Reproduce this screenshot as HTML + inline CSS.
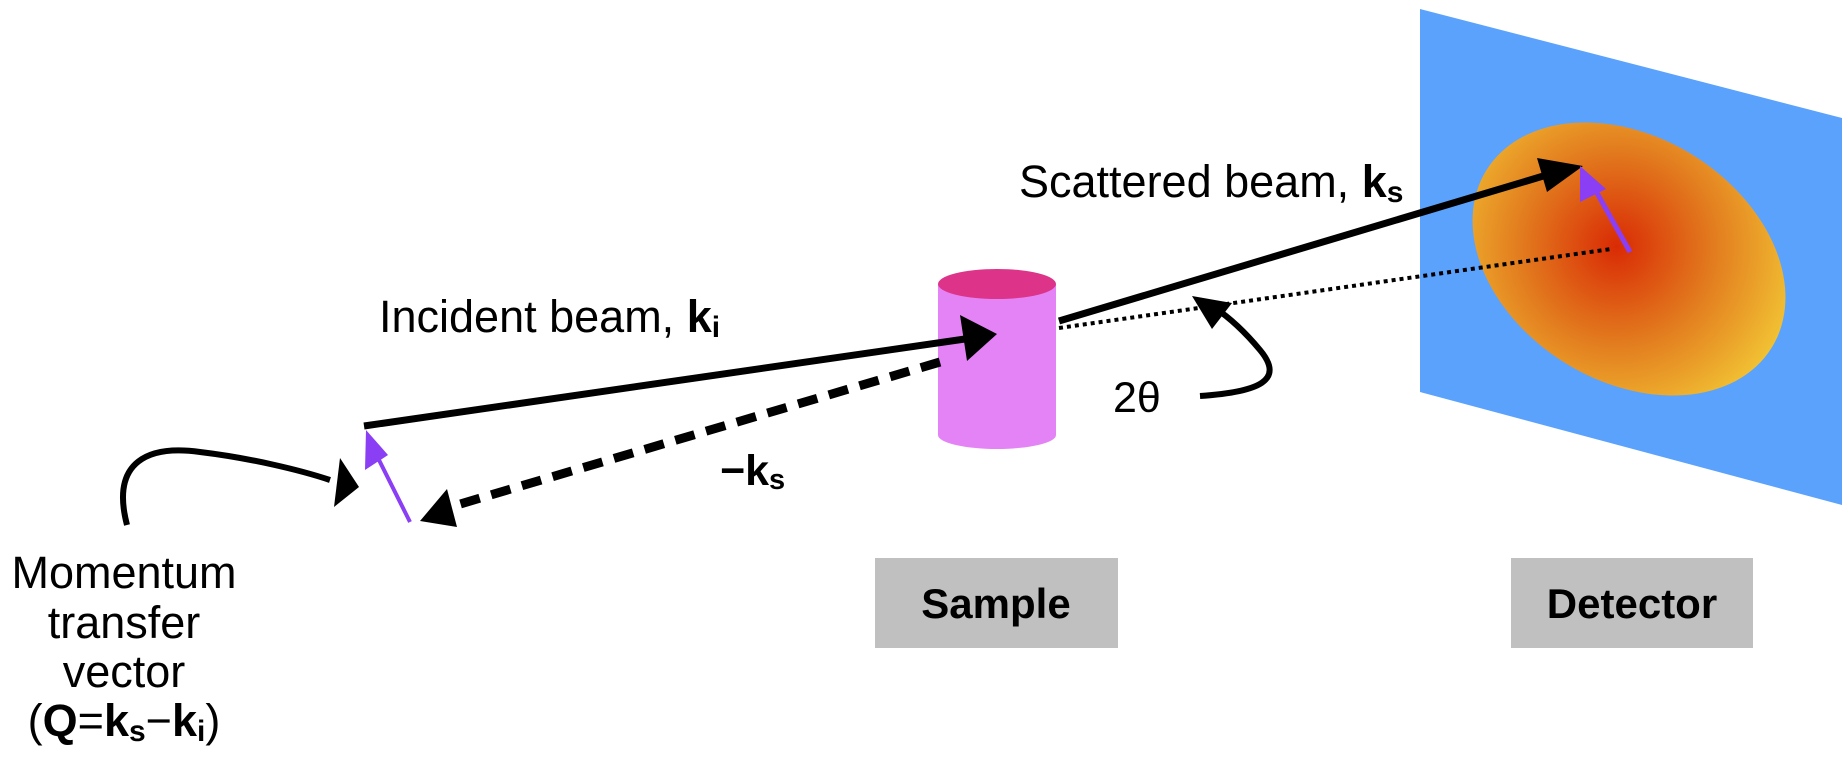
<!DOCTYPE html>
<html><head><style>
html,body{margin:0;padding:0;background:#fff;}
svg{display:block;}
text{font-family:"Liberation Sans",sans-serif;fill:#000;}
</style></head><body>
<svg width="1845" height="759" viewBox="0 0 1845 759" xmlns="http://www.w3.org/2000/svg">
<defs>
<radialGradient id="g" cx="1612" cy="255" r="190" gradientUnits="userSpaceOnUse">
<stop offset="0" stop-color="#d92b05"/>
<stop offset="0.5" stop-color="#e27a1e"/>
<stop offset="1" stop-color="#f2c534"/>
</radialGradient>
</defs>
<polygon points="1420,9 1842,118 1842,505 1420,392" fill="#5ba2fd"/>
<ellipse cx="1629" cy="259" rx="168" ry="122" transform="rotate(32 1629 259)" fill="url(#g)"/>
<line x1="1059" y1="328" x2="1611" y2="249" stroke="#000" stroke-width="4" stroke-dasharray="4,4"/>
<rect x="938" y="284" width="118" height="151" fill="#e383f5"/>
<ellipse cx="997" cy="435" rx="59" ry="14" fill="#e383f5"/>
<ellipse cx="997" cy="284" rx="59" ry="15" fill="#dd3388"/>
<line x1="364" y1="426" x2="965" y2="339" stroke="#000" stroke-width="7"/>
<polygon points="997,334 960,315 967,361" fill="#000"/>
<line x1="940" y1="362" x2="450" y2="507" stroke="#000" stroke-width="9" stroke-dasharray="20,12"/>
<polygon points="420,521 447,489 457,527" fill="#000"/>
<line x1="1059" y1="321" x2="1550" y2="174" stroke="#000" stroke-width="7"/>
<polygon points="1583,166 1537,158 1547,192" fill="#000"/>
<line x1="410" y1="522" x2="373" y2="448" stroke="#8a3ff5" stroke-width="4"/>
<polygon points="366,430 365,470 388,455" fill="#8a3ff5"/>
<line x1="1630" y1="252" x2="1592" y2="184" stroke="#8a3ff5" stroke-width="5"/>
<polygon points="1580,166 1580,202 1606,189" fill="#8a3ff5"/>
<path d="M127,525 C110,460 150,445 200,452 C250,458 300,470 330,480" fill="none" stroke="#000" stroke-width="6"/>
<polygon points="359,487 340,458 334,507" fill="#000"/>
<path d="M1200,396 C1260,392 1285,380 1260,350 C1245,332 1230,318 1215,308" fill="none" stroke="#000" stroke-width="6"/>
<polygon points="1192,296 1232,303 1212,329" fill="#000"/>
<text x="379" y="332" font-size="45">Incident beam, <tspan font-weight="bold">k</tspan><tspan font-weight="bold" font-size="30" dy="5">i</tspan></text>
<text x="1019" y="197" font-size="45">Scattered beam, <tspan font-weight="bold">k</tspan><tspan font-weight="bold" font-size="30" dy="5">s</tspan></text>
<text x="720" y="485" font-size="43" font-weight="bold">−k<tspan font-size="29" dy="4">s</tspan></text>
<text x="1113" y="412" font-size="43">2θ</text>
<g font-size="45" text-anchor="middle">
<text x="124" y="588">Momentum</text>
<text x="124" y="638">transfer</text>
<text x="124" y="687">vector</text>
<text x="124" y="736">(<tspan font-weight="bold">Q</tspan>=<tspan font-weight="bold">k</tspan><tspan font-weight="bold" font-size="30" dy="5">s</tspan><tspan dy="-5">−</tspan><tspan font-weight="bold">k</tspan><tspan font-weight="bold" font-size="30" dy="5">i</tspan><tspan dy="-5">)</tspan></text>
</g>
<rect x="875" y="558" width="243" height="90" fill="#c0c0c0"/>
<text x="996" y="618" font-size="42" font-weight="bold" text-anchor="middle">Sample</text>
<rect x="1511" y="558" width="242" height="90" fill="#c0c0c0"/>
<text x="1632" y="618" font-size="42" font-weight="bold" text-anchor="middle">Detector</text>
</svg>
</body></html>
